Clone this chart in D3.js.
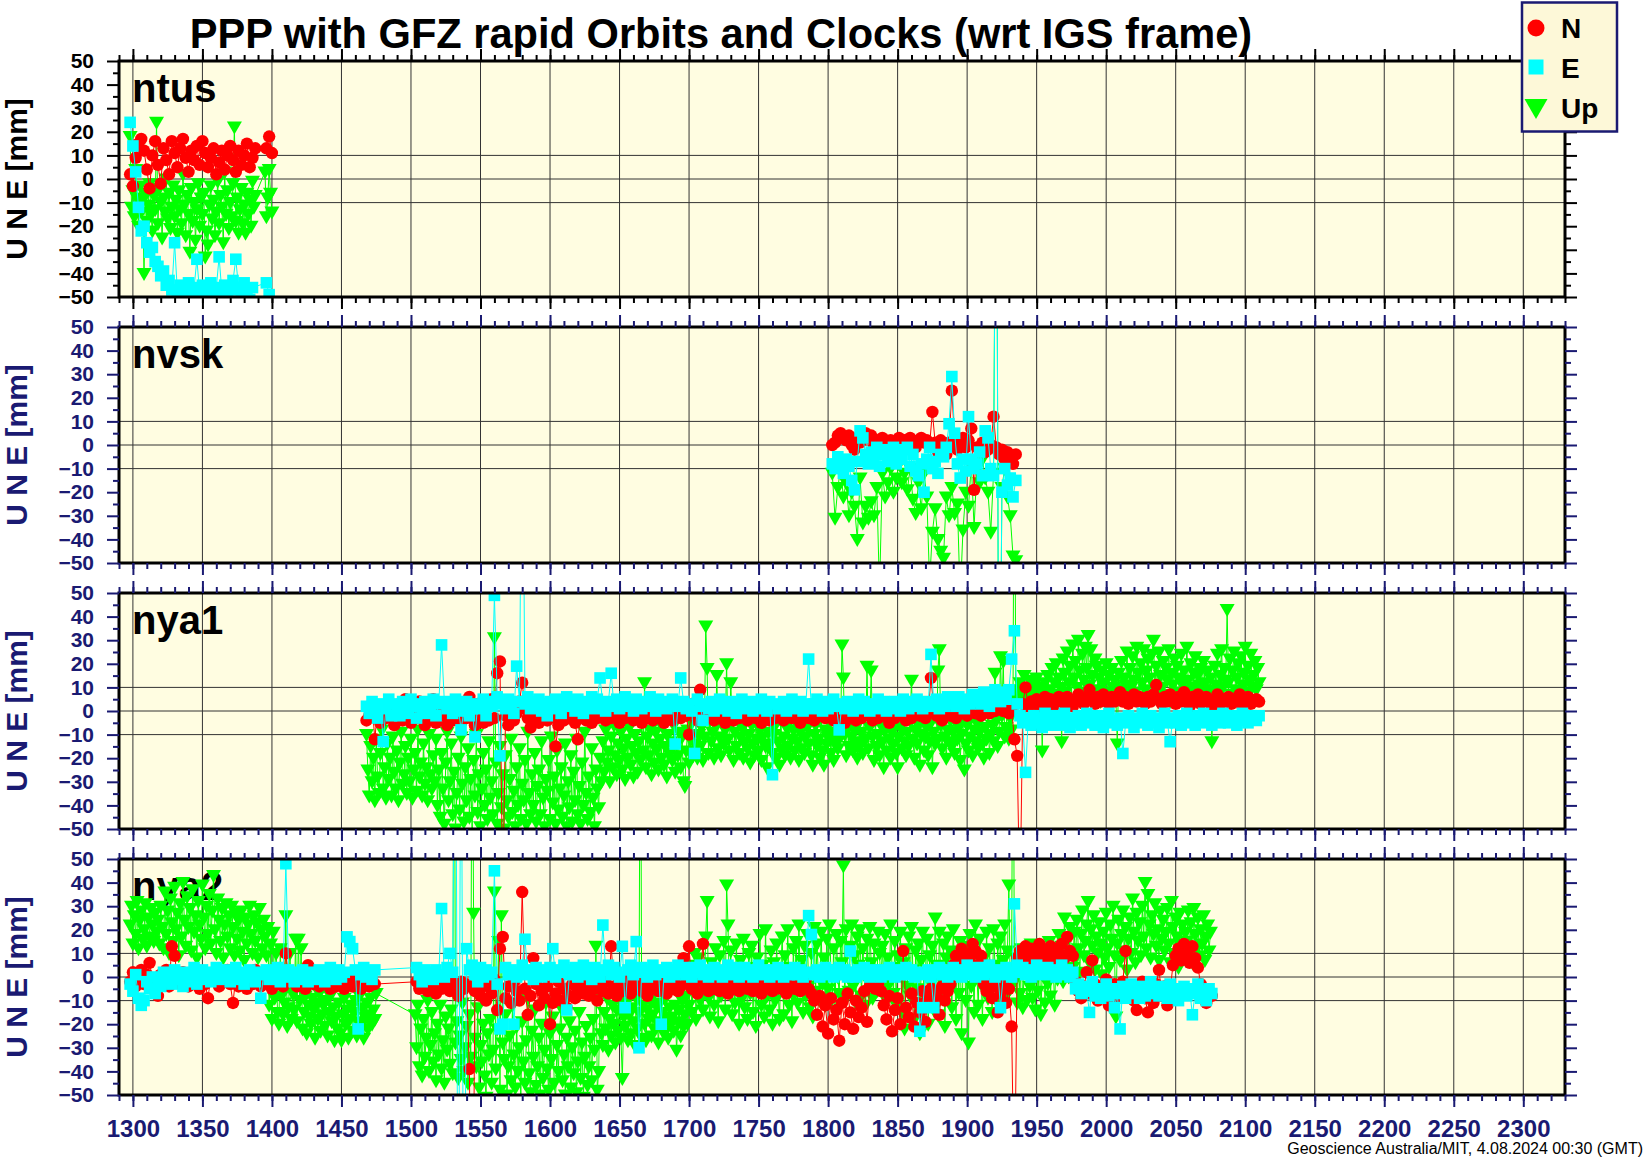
<!DOCTYPE html>
<html>
<head>
<meta charset="utf-8">
<script src="https://cdn.jsdelivr.net/npm/d3@7"></script>
<style>
  html, body { margin: 0; padding: 0; background: #fff; }
  svg { display: block; font-family: "Liberation Sans", Arial, Helvetica, sans-serif; }
</style>
</head>
<body>
<svg id="chart" width="1644" height="1158"></svg>
<script>
// ---- axis labels ----
const xTicks = [1300, 1350, 1400, 1450, 1500, 1550, 1600, 1650, 1700, 1750, 1800, 1850, 1900, 1950, 2000, 2050, 2100, 2150, 2200, 2250, 2300];
const yTicks = [50, 40, 30, 20, 10, 0, -10, -20, -30, -40, -50];
const yGrid = [10, 0, -10];
const stationNames = ['ntus', 'nvsk', 'nya1', 'nya2'];
const legendLabels = ['N', 'E', 'Up'];

// ---- data: GPS week series, N and E every 2 weeks, Up weekly (nvsk Up every 2) ----
// ntus, from week 1298
const ntusN = [2,-3,9,15,17,12,4,-4,10,16, 6,-2,13,8,2,16,11,5,13,17, 9,3,12,8,14,6,16,11,5,9, 13,2,7,12,4,10,14,8,3,12, 6,10,15,5,9,13,null,null,null,13, 18,11];
const ntusE = [24,14,3,-12,-22,-20,-27,-31,-29,-35, -37,-41,-39,-45,-43,-47,-27,-48,-45,-51, -47,-44,-49,-46,-34,-48,-45,-51,-47,-44, -49,-46,-33,-48,-45,-51,-47,-43,-34,-46, -49,-44,-47,-51,-46,null,null,null,null,-44, -49,null];
const ntusU = [18,-12,-5,-16,4,-8,-20,-3,-14,-9, -40,-6,-18,-11,-2,-15,-22,-7,-13,24, -19,-4,-10,-25,-8,-14,0,-17,-6,-21,
  -12,-3,-16,-9,-23,-5,-13,-19,2,-11, -24,-7,-15,-31,-4,-18,-10,-26,-13,-2, -20,-8,-15,-6,-33,-22,-28,-11,-3,-17,
  -9,-24,-14,-1,-19,-7,-12,-27,3,-15, -5,-21,-10,-16,-2,22,-18,-8,-23,-13, -4,-19,-11,-23,-6,-15,-9,-20,-1,-12,
  -7,null,null,null,null,null,null,3,-16,-8, 4,-6,-14];

// nvsk, from week 1803
const nvskN = [0,1,4,5,3,2,4,0,-2,3, 1,4,5,3,4,-1,2,1,3,2, 0,2,1,-2,3,1,2,0,3,1, -1,2,3,1,2,0,14,1,-3,2,
  0,-4,1,23,2,-2,0,3,-1,2, 7,-19,-1,-2,1,-3,-2,0,12,-1, -4,-2,-6,-3,-5,-8,-4];
const nvskE = [-8,-10,-5,-8,-12,-6,-9,-15,-19,-7, 6,3,-4,-8,-3,-6,-1,-9,-4,-2, -7,-5,-1,-8,-3,-6,-2,-1,-9,-4,
  -11,-13,-8,-20,-6,-1,-10,-7,-12,-4, -5,-1,9,29,5,-8,-14,-6,-11,12, -6,-10,-8,-3,-13,6,3,-10,-13,160, -160,-20,-10,-17,-14,-22,-15];
const nvskU = [-12,-31,-18,-10,-22,-16,-30,-20,-26,-40, -14,-33,-26,-31,-24,-30,-18,-62,-12,-22, -16,-10,-20,-14,-8,-16,-12,-19,-10,-23,
  -29,-16,-27,-12,-22,-58,-37,-27,-40,-45, -48,-22,-30,-18,-29,-25,-65,-36,-20,-26, -8,-35,-10,-16,-6,-14,-20,-37,-12,180, -180,-18,-10,-22,-30,-47,-49];

// nya1, from week 1468
const nya1N = [-4,-2,3,-12,1,-5,2,-3,4,-1, -6,0,3,-4,5,-2,-5,1,-3,4, -1,-6,2,-3,5,-5,0,-2,3,-6, 1,-4,4,-2,-5,2,-3,6,-1,-6,
  3,-2,-5,1,-4,5,-3,16,21,-80, -2,-6,2,-4,-1,4,12,1,-3,-7, -3,2,-5,-1,3,-4,0,-2,-15,-6, -1,-4,2,-3,0,-5,-12,-2,1,-4,
  -1,-5,1,-3,3,-2,-4,0,-3,2, -2,-5,0,-3,2,-1,-4,1,-2,-5, 0,-3,2,-4,-1,1,-3,-5,0,-2, -4,1,-1,-3,0,-2,-10,3,-1,-4,
  9,-1,-3,1,-2,-4,0,-3,-1,-5, 1,-2,-4,0,-3,-1,2,-4,-2,0, -3,-1,-5,1,-2,-4,0,-3,2,-1, -4,-2,0,-3,1,-1,-5,-2,0,-3,
  -1,-4,1,-2,0,-3,-1,2,-4,-2, 0,-3,-5,-1,1,-2,-4,0,-3,-1, 1,-2,-4,0,-3,-1,2,-2,-5,0, -3,-1,1,-2,-4,0,-3,-1,1,-2,
  0,-3,-1,14,1,-2,0,-4,-1,1, -2,0,-3,2,-1,1,-2,0,2,-1, 1,-2,0,3,-1,2,0,1,4,0, 0,-1,1,-12,-19,-85,3,10,2,4,
  3,5,2,4,6,3,5,2,4,6, 5,3,6,4,2,5,7,4,3,6, 9,5,3,6,4,7,5,3,6,4, 5,8,4,6,3,5,7,4,6,5,
  3,6,4,7,11,5,3,6,4,7, 5,3,6,4,8,5,2,6,4,7, 3,5,6,4,2,5,7,3,5,4, 6,3,5,4,7,2,5,6,3,4, 5,4];
const nya1E = [2,-1,4,0,-3,3,-13,1,5,-2, 3,0,-2,4,1,-1,5,2,-3,3, 0,4,-1,2,5,-2,3,28,4,1, 3,-1,5,2,-8,0,4,-2,1,-11,
  3,1,5,-2,4,2,49,6,-19,3, 1,5,2,-1,19,4,150,3,6,1, 4,2,5,0,3,-2,4,1,5,2, -1,3,6,2,4,0,5,3,-1,4,
  2,6,1,5,14,3,0,4,16,2, 5,1,3,6,2,4,0,5,3,1, 4,2,6,3,0,5,2,4,1,3, 5,-14,2,14,4,1,3,0,-18,5,
  2,-4,3,1,4,0,2,5,1,3, 0,4,2,-1,3,5,1,2,4,0, 3,1,5,2,0,4,-27,3,1,2, 4,0,3,5,1,2,4,0,3,22,
  1,3,5,2,0,4,1,3,5,2, -8,3,1,4,2,0,3,5,1,4, 2,0,3,1,5,2,4,0,3,1, 4,2,0,5,3,1,4,2,5,3,
  1,4,2,24,3,5,1,4,2,6, 3,5,2,6,4,1,5,3,7,4, 6,3,8,5,2,7,9,6,4,8, 5,9,22,34,3,-2,-5,-26,-3,-6,
  -2,-5,-3,-7,-1,-4,-6,-2,-5,-3, -6,-1,-4,-7,-3,-5,-2,-6,-4,-1, -5,-3,-6,-2,-4,-7,-3,-1,-5,-4, -6,-3,-18,-5,-2,-4,-7,-3,-5,-1,
  -4,-6,-2,-5,-3,-7,-4,-1,-5,-13, -3,-5,-2,-6,-4,-1,-5,-3,-6,-2, -4,-1,-5,-3,-6,-2,-4,-5,-1,-3, -5,-2,-4,-6,-3,-1,-4,-5,-2,-3, -4,-2];
const nya1U = [
  -10,-25,-36,-15,-30,-20,-38,-12,-28,-35, -18,-8,-33,-24,-37,-14,-29,-20,-36,-11, -26,-33,-17,-38,-22,-9,-31,-27,-15,-35,
  -20,-30,-12,-37,-25,-18,-34,-8,-28,-22, -36,-14,-31,-24,-38,-10,-27,-33,-19,-30, -12,-40,-25,-45,-18,-33,-48,-22,-9,-38,
  -30,-14,-44,-26,-50,-35,-20,-42,-11,-31, -47,-24,-38,-16,-45,-29,-52,-21,-36,-10, -43,-27,-49,-33,-18,-40,-25,-46,-13,-37,
  -30,-44,31,-22,-48,-35,-15,-41,-27,-50, -19,-38,-45,-29,-12,-43,-34,-49,-24,-40, -16,-46,-31,-38,-21,-48,-9,-35,-44,-27,
  -40,-18,-47,-32,-25,-44,-13,-37,-49,-29, -34,-21,-46,-11,-39,-28,-48,-17,-42,-33, -24,-45,-36,-14,-49,-30,-41,-19,-47,-26,
  -38,-12,-44,-32,-48,-22,-40,-9,-35,-46, -28,-43,-16,-37,-49,-25,-33,-41,-20,-30, -13,-26,-8,-22,-17,-30,-11,-24,-6,-19,
  -27,-14,-21,-9,-25,-16,-29,-12,-20,-7, -23,-15,-28,-10,-18,-26,-13,-21,-5,-17, 12,-24,-11,-19,-8,-27,-14,-22,-9,-16,
  -25,-12,-20,-7,-23,-15,-28,-10,-18,-13, -21,-6,-26,-14,-19,-9,-24,-11,-30,-32, -17,-8,-22,-12,-5,-19,-14,-3,-20,-10,
  -15,-7,-21,-11,36,18,-18,-4,-13,-9, -20,-6,15,-16,-11,-19,-3,-14,-8,20, -12,-17,12,-5,-21,-9,-15,-2,-18,-11,
  -7,-20,-13,-4,-16,-10,-22,-6,-14,-19, -3,-12,-17,-8,-21,-11,-5,-15,-24,-9, -14,-2,-18,-10,-6,-20,-13,-23,-4,-16,
  -11,-19,-7,-15,-3,-20,-12,-8,-17,-5, -13,-21,-9,-16,-4,-18,-11,-7,-14,-2, -19,-23,-10,-6,-15,-12,-20,-3,-17,-23,
  -8,-14,-11,-5,-18,-9,-21,-13,-4,-16, -12,-7,28,14,-10,-19,-6,-15,-3,-11, -17,-8,-13,-20,-5,-14,-9,-18,-2,-12,
  19,-16,-7,17,-11,-21,-4,-15,-10,-19, -6,-13,-24,-8,-17,-3,-12,-20,-9,-14, -5,-18,-24,-11,-7,-16,-2,-13,-19,-9,
  -15,-4,13,-12,-20,-8,-14,-6,-23,-10, -3,-17,-11,-7,-19,-13,-5,-24,-9,-14, -12,17,26,-6,-16,-2,-11,-20,-8,-13,
  -4,-15,-9,-18,-1,-12,-7,-21,-10,-3, -25,-14,-6,-17,-11,-2,-19,-8,-13,-5, -16,-9,-3,-14,-20,-7,-12,-1,-18,-10,
  -6,-13,16,-4,-15,-9,23,-2,21,-11, -7,2,-12,-3,-8,5,150,3,9,6, 12,4,8,15,2,10,6,13,3,9,
  11,5,14,7,2,10,-17,8,12,4, 15,9,6,18,3,12,20,7,14,10, -13,22,16,8,25,12,19,5,28,14,
  21,10,30,17,8,24,13,27,18,32, 11,26,15,7,22,19,9,14,4,17, 12,6,20,8,15,3,18,10,13,5,
  -14,16,9,21,7,14,11,25,6,18, 10,23,13,8,27,16,5,20,12,26, 9,17,22,14,6,24,30,11,19,8,
  25,15,10,21,7,18,13,26,4,16, 11,22,8,19,14,6,24,12,17,9, 27,13,5,20,10,16,23,7,15,11,
  18,4,21,12,8,17,9,14,-13,6, 19,11,24,8,15,26,10,18,13,43, 12,22,7,17,25,9,14,20,6,23,
  11,16,27,8,19,13,24,10,15,21, 9,18,12];

// nya2, from week 1298 (gap 1476-1502)
const nya2N = [-2,2,-4,0,3,-3,1,6,-1,-5, -8,1,-2,3,-4,13,9,0,-3,2, -1,-4,1,-2,3,-5,1,-3,-9,0, 2,-2,-4,1,-1,3,-3,-11,0,-4,
  1,-2,-5,1,-3,3,-1,-4,0,2, -2,-5,-1,-3,1,-4,10,0,-2,-1, -4,0,-2,-5,5,-1,-3,1,-4,-2, 0,-3,-5,-1,-4,1,-2,-5,-3,0,
  -4,-1,-3,-5,-2,0,-4,-1,-3,null, null,null,null,null,null,null,null,null,null,null, null,null,null,-2,-5,0,-3,-6,1,-4,
  -7,-2,-5,0,-3,-6,-1,-4,-8,-2, -5,-3,-39,-150,-6,-2,-8,-4,-10,-3, -7,-1,-14,12,17,-9,-4,-11,-2,-6, -10,36,-5,-16,-8,8,-3,-12,-6,-9,
  -4,-20,-11,-7,-2,-10,-5,-13,-8,-3, -9,-6,-2,-7,-4,-8,-1,-5,-10,-3, -6,-2,-7,13,-4,-8,-3,-6,-1,-5, -7,-3,-5,-2,-6,-4,-8,-1,-5,-3,
  -6,-2,-4,-7,-3,-5,-1,-6,-4,8, -2,13,-5,-3,-7,-1,14,-4,-6,-2, -5,-3,-6,-1,-4,-7,-2,-5,-3,-6, -4,-1,-5,-3,-6,-2,-4,-7,-3,-5,
  -2,-6,-4,-1,-5,-3,-7,-4,-2,-5, -3,-6,-4,-1,-5,-7,-10,-16,-8,-21, -12,-24,-9,-18,-14,-27,-11,-20,-7,-15, -22,-10,-17,-13,-6,-19,-4,-2,-5,-3,
  -6,-12,-18,-8,-23,-14,-9,-20,11,-13, -17,-7,-21,-11,-15,-6,-19,-9,-5,-12, -8,-16,-4,-10,-6,-3,5,9,7,12, 6,10,8,14,11,5,9,-3,-6,-2,
  -9,-4,-15,-7,-3,-11,-5,-21,-100,8, 11,7,13,9,12,6,10,14,8,11, 9,13,7,12,10,14,8,17,11,9, -2,-6,-9,-4,2,-7,7,-3,-10,-5,
  -8,-1,-12,-6,-3,-9,-5,-2,11,-7, -4,-10,-14,-6,-2,-9,-15,-5,-11,-3, 3,-8,-4,-12,-6,5,9,12,7,14, 10,6,13,8,4,-3,-5,-11,-6,-8];
const nya2E = [-3,-6,1,-9,-12,-10,-2,-5,0,-7, -1,-4,2,-2,1,-3,3,-1,0,-4, 2,-2,1,4,-3,0,3,-1,2,-2, 1,4,-1,2,0,3,-2,1,4,-1,
  2,-3,0,3,1,-2,2,-9,1,3, -1,2,0,4,-2,1,48,3,0,-2, 2,-1,3,0,-2,2,1,-1,3,0, -2,2,4,1,-1,3,0,2,17,15,
  12,3,-22,1,4,0,2,-1,3,null, null,null,null,null,null,null,null,null,null,null, null,null,null,4,1,-2,3,0,2,-1,
  3,1,29,0,4,10,2,160,-160,150, -150,12,3,5,1,-2,4,0,3,1, 2,45,-3,-22,-20,4,1,3,-20,0, 2,5,16,1,3,-1,4,2,0,3,
  1,4,12,0,3,2,5,-14,1,3, 4,0,2,5,1,3,-1,4,2,0, 22,3,5,1,4,2,0,13,-13,3, 5,1,15,-30,4,2,0,3,5,1,
  3,-20,2,4,0,3,1,5,2,4, 1,3,0,4,2,5,1,3,0,2, 4,1,3,0,2,5,1,3,4,0, 2,4,1,3,0,2,5,1,3,2,
  0,3,1,4,2,0,3,1,2,4, 1,3,0,2,26,18,1,3,0,2, 4,1,3,0,2,4,1,3,0,11, 2,0,3,1,4,2,0,3,1,2,
  0,3,1,4,2,0,3,1,2,4, 1,3,0,2,-23,-13,1,3,0,-13, 2,4,1,3,0,2,4,1,3,0, 2,5,1,3,0,4,2,1,3,5,
  2,0,3,-13,1,4,2,0,31,5, 2,4,1,3,0,2,5,1,3,2, 4,1,3,0,2,5,1,3,0,2, -5,-3,-7,-4,-6,-15,-2,-8,-5,-9,
  -6,-3,-8,-5,-13,-7,-22,-4,-9,-6, -3,-7,-5,-9,-4,-8,-6,-2,-7,-5, -8,-4,-6,-9,-3,-7,-5,-10,-6,-4, -8,-5,-16,-7,-3,-9,-6,-10,-5,-7];
const nya2U = [
  22,30,14,26,18,32,12,24,28,16, 20,31,13,25,17,29,22,15,27,19, 24,14,30,21,12,36,18,28,10,33,
  23,15,38,20,27,9,31,17,40,24, 13,34,21,29,11,37,19,26,8,32, 22,16,39,25,12,30,18,35,14,28,
  43,20,10,33,24,15,29,8,22,31, 17,26,12,30,21,9,27,16,24,11, 28,19,7,25,14,22,30,18,10,26,
  15,23,8,29,20,12,24,17,9,21, -12,14,-18,19,-9,10,-15,-20,12,-8, -16,-11,26,-21,-13,10,-18,-7,-14,16,
  -19,16,-10,12,-22,-15,-8,-24,-12,-17, -20,-9,-14,-26,-11,-18,-7,-23,-16,-12, -21,-10,-25,-15,-8,-19,-13,-27,-17,-22,
  -11,-24,-27,-16,-9,-20,-14,-26,-18,-12, -23,-15,-10,-25,-19,-8,-21,-13,-26,-17, -11,-22,-16,-9,-20,-14,-18,-7,null,null,
  null,null,null,null,null,null,null,null,null,null, null,null,null,null,null,null,null,null,null,null, null,null,null,null,null,-16,-30,-12,-38,-22,
  -42,-18,-34,-26,-10,-40,-29,-15,-36,-24, -44,-20,-33,-12,-39,-27,-45,-17,-31,-22, -37,-14,-41,170,-28,-19,-43,-25,-35,-11,
  -40,-30,-21,-45,-16,-34,160,27,-26,-38, -13,-47,-29,-36,-20,-42,-51,-24,-33,-18, -45,-31,36,-39,-22,15,-48,26,-28,-35,
  -16,-50,-38,-25,-44,-12,-33,-47,-21,-40, -30,-52,-19,-36,-45,-27,-9,-41,-49,-23, -34,-14,-46,-38,-26,-50,-20,-43,-31,-11,
  -39,-48,-24,-35,-17,-45,-52,-29,-40,-22, -13,-44,-33,-50,-26,-38,-19,-47,-30,-41, -23,-49,-36,-15,-43,-28,-51,-34,-21,-46,
  -38,-26,-44,-18,-31,13,-48,-40,-7,-24, -29,-15,-22,-9,-31,-18,-25,-12,-20,-28, -14,-23,-10,-26,-43,-17,-21,-11,-27,-16,
  -24,-13,-19,-29,-9,-22,-15,150,-26,-12, -20,-27,-14,-18,-10,-25,-16,-22,-12,-19, -28,-11,-21,-15,-24,-9,-18,-26,-13,-20,
  -17,-23,-12,-31,-19,-14,-25,-10,-21,-16, -8,-20,-12,5,-15,-3,10,-18,-6,8, -10,2,-14,-4,17,32,-9,-17,6,-2,
  -12,12,-5,-19,9,-8,1,15,-14,39, 22,-6,11,-16,3,-11,14,-3,-20,7, -9,16,-13,4,-18,10,-7,13,-15,2,
  -21,8,-4,18,-12,5,-17,20,-8,-1, -14,11,-20,6,-10,14,-5,-18,2,17, -16,9,-3,20,-12,4,-19,12,-7,15,
  -11,22,-2,7,-15,13,-8,18,-4,-13, 10,-17,21,-6,14,1,-10,19,-3,8, -12,16,-5,22,3,-9,12,-14,18,0,
  -7,15,6,47,-10,20,2,-6,13,22, -4,9,-11,17,5,20,-8,12,1,-12, 16,-2,21,6,-9,14,3,-6,19,10,
  -5,13,0,18,-10,8,-3,22,4,-7, 15,-12,9,2,19,-15,6,-22,12,-4, 17,-8,21,3,-18,11,-5,14,-24,7,
  19,-11,2,16,-20,9,-3,13,-14,25, 5,-16,19,0,-9,14,-21,8,17,-6, 11,-13,20,4,-18,9,-7,15,-24,2,
  13,-10,6,-28,18,-4,10,-15,22,1, -12,16,3,-18,8,-6,19,-9,12,0, -15,20,5,-10,14,-3,17,-13,7,22,
  -8,11,39,-5,3,150,-2,8,-11,4, -7,12,-13,2,9,-10,5,-4,14,-9, 3,-14,10,-6,7,-16,1,12,-11,6,
  -3,15,-8,9,2,-12,11,-1,18,4, 13,-2,25,7,16,0,21,10,4,19, 8,24,12,2,18,28,9,15,22,32,
  6,20,13,26,3,17,10,23,14,1, 19,8,27,12,4,22,16,30,9,-17, 14,24,7,18,28,11,21,3,16,25,
  10,33,19,6,27,15,23,9,30,17, 40,12,35,22,8,26,18,31,13,20, 7,28,16,24,11,19,29,14,6,32,
  21,10,25,17,4,27,13,22,8,19, 15,28,11,23,6,29,18,12,25,9, 20,14,26,7,17,22,11,19,null,null];

// ---- layout ----
const left = 119, right = 1565, panelH = 236;
const panelTops = [61, 327, 593, 859];
const navy = '#1a1a72';
const bg = '#fffde1';
const colN = '#ff0000', colE = '#00ffff', colU = '#00ff00';

const panels = [
  { name: stationNames[0], n: ntusN, e: ntusE, u: ntusU, neStart: 1298, uStart: 1298, uStep: 1 },
  { name: stationNames[1], n: nvskN, e: nvskE, u: nvskU, neStart: 1803, uStart: 1803, uStep: 2 },
  { name: stationNames[2], n: nya1N, e: nya1E, u: nya1U, neStart: 1468, uStart: 1468, uStep: 1 },
  { name: stationNames[3], n: nya2N, e: nya2E, u: nya2U, neStart: 1298, uStart: 1298, uStep: 1 }
];

const svg = d3.select('#chart');
const x = d3.scaleLinear().domain([1290, 2330]).range([left, right]);
const xMinor = d3.range(1290, 2331, 10);
const yMinor = d3.range(-45, 50, 10);
const fmtY = d => d < 0 ? '\u2212' + Math.abs(d) : String(d);

function toPoints(start, step, vals) {
  return vals.map((v, i) => v == null ? null : { w: start + i * step, v: v }).filter(d => d);
}

const triPath = 'M-7.5,-5.5L7.5,-5.5L0,7.5Z';

function drawSeries(g, pts, y, color, shape) {
  g.append('path').datum(pts)
    .attr('d', d3.line().x(d => x(d.w)).y(d => y(d.v)))
    .attr('fill', 'none').attr('stroke', color).attr('stroke-width', 1);
  const sel = g.append('g').selectAll('.m').data(pts).enter();
  if (shape === 'circle') {
    sel.append('circle').attr('cx', d => x(d.w)).attr('cy', d => y(d.v)).attr('r', 6.2).attr('fill', color);
  } else if (shape === 'square') {
    sel.append('rect').attr('x', d => x(d.w) - 5.8).attr('y', d => y(d.v) - 5.8)
      .attr('width', 11.6).attr('height', 11.6).attr('fill', color);
  } else {
    sel.append('path').attr('d', triPath)
      .attr('transform', d => `translate(${x(d.w)},${y(d.v)})`).attr('fill', color);
  }
}

panels.forEach((p, k) => {
  const top = panelTops[k];
  const bottom = top + panelH;
  const axisCol = k === 0 ? '#000' : navy;
  const y = d3.scaleLinear().domain([-50, 50]).range([bottom, top]);
  const g = svg.append('g');

  g.append('rect').attr('x', left).attr('y', top).attr('width', right - left).attr('height', panelH).attr('fill', bg);

  // grid
  g.append('g').selectAll('line').data(xTicks).enter().append('line')
    .attr('x1', d => x(d)).attr('x2', d => x(d)).attr('y1', top).attr('y2', bottom)
    .attr('stroke', '#333').attr('stroke-width', 1);
  g.append('g').selectAll('line').data(yGrid).enter().append('line')
    .attr('x1', left).attr('x2', right).attr('y1', d => y(d)).attr('y2', d => y(d))
    .attr('stroke', '#333').attr('stroke-width', 1);

  // station label (drawn under the data)
  g.append('text').attr('x', 132).attr('y', top + 41)
    .attr('font-size', 40).attr('font-weight', 'bold').attr('fill', '#000').text(p.name);

  // data
  svg.append('clipPath').attr('id', 'clip' + k).append('rect')
    .attr('x', left).attr('y', top).attr('width', right - left).attr('height', panelH);
  const dg = g.append('g').attr('clip-path', `url(#clip${k})`);
  drawSeries(dg, toPoints(p.uStart, p.uStep, p.u), y, colU, 'tri');
  drawSeries(dg, toPoints(p.neStart, 2, p.n), y, colN, 'circle');
  drawSeries(dg, toPoints(p.neStart, 2, p.e), y, colE, 'square');

  // frame
  g.append('rect').attr('x', left).attr('y', top).attr('width', right - left).attr('height', panelH)
    .attr('fill', 'none').attr('stroke', '#000').attr('stroke-width', 3);

  // axes (tick-only axes lose their empty labels)
  const addAxis = (axis, tx, ty, keepText) => {
    const a = g.append('g').attr('transform', `translate(${tx},${ty})`).attr('color', axisCol).call(axis);
    a.select('.domain').remove();
    a.selectAll('line').attr('stroke-width', 2);
    if (!keepText) a.selectAll('text').remove();
    return a;
  };
  addAxis(d3.axisTop(x).tickValues(xMinor).tickSize(6), 0, top, false);
  addAxis(d3.axisTop(x).tickValues(xTicks).tickSize(12), 0, top, false);
  addAxis(d3.axisBottom(x).tickValues(xMinor).tickSize(6), 0, bottom, false);
  const xb = addAxis(d3.axisBottom(x).tickValues(xTicks).tickSize(12).tickPadding(13)
    .tickFormat(d => d), 0, bottom, k === 3);
  xb.selectAll('text').attr('font-size', 24).attr('font-weight', 'bold')
    .attr('font-family', '"Liberation Sans", Arial, sans-serif');

  addAxis(d3.axisLeft(y).tickValues(yMinor).tickSize(6), left, 0, false);
  // y labels sized so neighbouring labels (23.6 px apart) do not touch
  const yl = addAxis(d3.axisLeft(y).tickValues(yTicks).tickSize(12).tickPadding(13).tickFormat(fmtY), left, 0, true);
  yl.selectAll('text').attr('font-size', 21).attr('font-weight', 'bold')
    .attr('font-family', '"Liberation Sans", Arial, sans-serif');
  addAxis(d3.axisRight(y).tickValues(yMinor).tickSize(6), right, 0, false);
  addAxis(d3.axisRight(y).tickValues(yTicks).tickSize(12), right, 0, false);

  // y title: vertical text turned half a turn so it reads bottom-to-top
  g.append('text').attr('transform', `translate(16.6,${top + panelH / 2}) rotate(180)`)
    .attr('writing-mode', 'tb').style('writing-mode', 'vertical-rl')
    .attr('text-anchor', 'middle').attr('font-size', 30).attr('font-weight', 'bold')
    .attr('fill', axisCol).text('U N E [mm]');
});

// title
svg.append('text').attr('x', 721).attr('y', 48).attr('text-anchor', 'middle')
  .attr('font-size', 41.6).attr('font-weight', 'bold').attr('fill', '#000')
  .text('PPP with GFZ rapid Orbits and Clocks (wrt IGS frame)');

// footer
svg.append('text').attr('x', 1643).attr('y', 1154).attr('text-anchor', 'end')
  .attr('font-size', 16).attr('fill', '#000')
  .text('Geoscience Australia/MIT, 4.08.2024 00:30 (GMT)');

// legend
const lg = svg.append('g');
lg.append('rect').attr('x', 1522).attr('y', 2.5).attr('width', 95).attr('height', 129)
  .attr('fill', '#fdf8d8').attr('stroke', navy).attr('stroke-width', 2.5);
lg.append('circle').attr('cx', 1536).attr('cy', 28).attr('r', 8.5).attr('fill', colN);
lg.append('rect').attr('x', 1528.5).attr('y', 59.5).attr('width', 15).attr('height', 15).attr('fill', colE);
lg.append('path').attr('d', 'M-11.5,-9L11.5,-9L0,11Z').attr('transform', 'translate(1536,108)').attr('fill', colU);
lg.selectAll('.lt').data(legendLabels).enter().append('text')
  .attr('x', 1561).attr('y', (d, i) => 38 + i * 40)
  .attr('font-size', 28).attr('font-weight', 'bold').attr('fill', '#000').text(d => d);
</script>
</body>
</html>
